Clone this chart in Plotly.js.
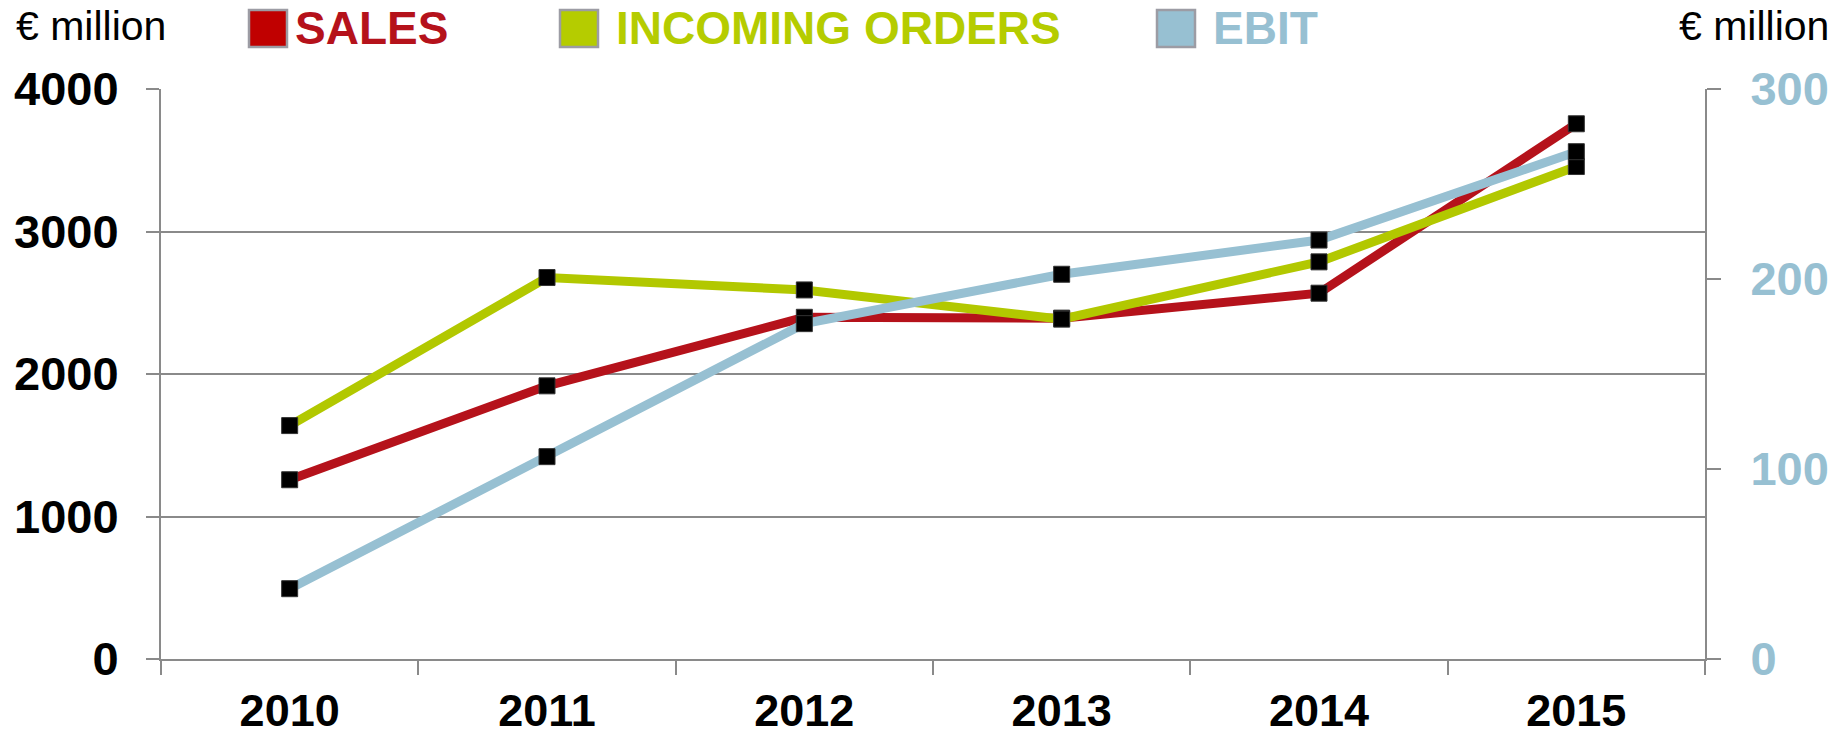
<!DOCTYPE html>
<html>
<head>
<meta charset="utf-8">
<script src="https://cdn.plot.ly/plotly-3.0.1.min.js"></script>
<style>html,body{margin:0;padding:0;background:#fff;}#chart{width:1847px;height:736px;}</style>
</head>
<body>
<div id="chart"></div>
<script>
// ---- data ----
const years = ['2010', '2011', '2012', '2013', '2014', '2015'];
const sales = [1258, 1917, 2398, 2392, 2567, 3756];
const incomingOrders = [1638, 2677, 2590, 2385, 2787, 3456];
const ebit = [37, 106.5, 176.5, 202.5, 220.5, 267];
const leftTicks = [0, 1000, 2000, 3000, 4000];
const rightTicks = [0, 100, 200, 300];
const seriesNames = ['SALES', 'INCOMING ORDERS', 'EBIT'];
const unitLabel = '€ million';

// ---- styles ----
const W = 1847, H = 736;
const M = {l: 161, r: 142, t: 89, b: 77};
const PW = W - M.l - M.r, PH = H - M.t - M.b;
const px = x => (x - M.l) / PW;
const py = y => (H - M.b - y) / PH;
const FONT = 'Liberation Sans, Arial, sans-serif';
const GRAY = '#8a8a8a';
const RED = '#B5121B', GREEN = '#B2C800', BLUE = '#97C0D2';

const markerStyle = {symbol: 'square', size: 16, color: '#000', line: {width: 1, color: '#333'}};

const traces = [
  {x: years, y: sales, name: seriesNames[0], type: 'scatter', mode: 'lines+markers',
   line: {color: RED, width: 9}, marker: markerStyle, yaxis: 'y'},
  {x: years, y: incomingOrders, name: seriesNames[1], type: 'scatter', mode: 'lines+markers',
   line: {color: GREEN, width: 9}, marker: markerStyle, yaxis: 'y'},
  {x: years, y: ebit, name: seriesNames[2], type: 'scatter', mode: 'lines+markers',
   line: {color: BLUE, width: 9}, marker: markerStyle, yaxis: 'y2'}
];

const legendItems = [
  {label: seriesNames[0], box: [249, 287], textX: 293, fill: '#C00000', color: RED},
  {label: seriesNames[1], box: [560, 598], textX: 614, fill: '#B5CC00', color: '#B5CC00'},
  {label: seriesNames[2], box: [1157, 1195], textX: 1211, fill: BLUE, color: BLUE}
];

const shapes = legendItems.map(it => ({
  type: 'rect', xref: 'paper', yref: 'paper',
  x0: px(it.box[0]), x1: px(it.box[1]), y0: py(47), y1: py(10),
  fillcolor: it.fill, line: {color: '#9c9ca4', width: 2.5}
}));

const annotations = legendItems.map(it => ({
  xref: 'paper', yref: 'paper', x: px(it.textX), y: py(28),
  xanchor: 'left', yanchor: 'middle', showarrow: false,
  text: '<b>' + it.label + '</b>', font: {family: FONT, size: 46, color: it.color}
}));
annotations.push({xref: 'paper', yref: 'paper', x: px(14), y: py(26), xanchor: 'left', yanchor: 'middle',
  showarrow: false, text: unitLabel, font: {family: FONT, size: 41, color: '#000'}});
annotations.push({xref: 'paper', yref: 'paper', x: px(1831), y: py(26), xanchor: 'right', yanchor: 'middle',
  showarrow: false, text: unitLabel, font: {family: FONT, size: 41, color: '#000'}});

const layout = {
  width: W, height: H,
  margin: M,
  paper_bgcolor: '#fff', plot_bgcolor: '#fff',
  showlegend: false,
  xaxis: {
    type: 'category', categoryorder: 'array', categoryarray: years,
    range: [-0.5, 5.5], tickson: 'boundaries',
    ticks: 'outside', ticklen: 14, tickwidth: 2, tickcolor: GRAY,
    showline: true, linecolor: GRAY, linewidth: 2, showgrid: false, zeroline: false,
    tickfont: {family: FONT, size: 45, color: '#000', weight: 'bold'},
    ticklabelstandoff: 11
  },
  yaxis: {
    range: [0, 4000], tickvals: leftTicks, ticktext: leftTicks.map(String),
    ticks: 'outside', ticklen: 13, tickwidth: 2, tickcolor: GRAY,
    showline: true, linecolor: GRAY, linewidth: 2,
    showgrid: true, gridcolor: GRAY, gridwidth: 2, zeroline: false,
    tickfont: {family: FONT, size: 47, color: '#000', weight: 'bold'},
    ticklabelstandoff: 18
  },
  yaxis2: {
    overlaying: 'y', side: 'right',
    range: [0, 300], tickvals: rightTicks, ticktext: rightTicks.map(String),
    ticks: 'outside', ticklen: 14, tickwidth: 2, tickcolor: GRAY,
    showline: true, linecolor: GRAY, linewidth: 2,
    showgrid: false, zeroline: false,
    tickfont: {family: FONT, size: 47, color: BLUE, weight: 'bold'},
    ticklabelstandoff: 20
  },
  shapes: shapes,
  annotations: annotations
};

Plotly.newPlot('chart', traces, layout, {staticPlot: true, displayModeBar: false});
</script>
</body>
</html>
